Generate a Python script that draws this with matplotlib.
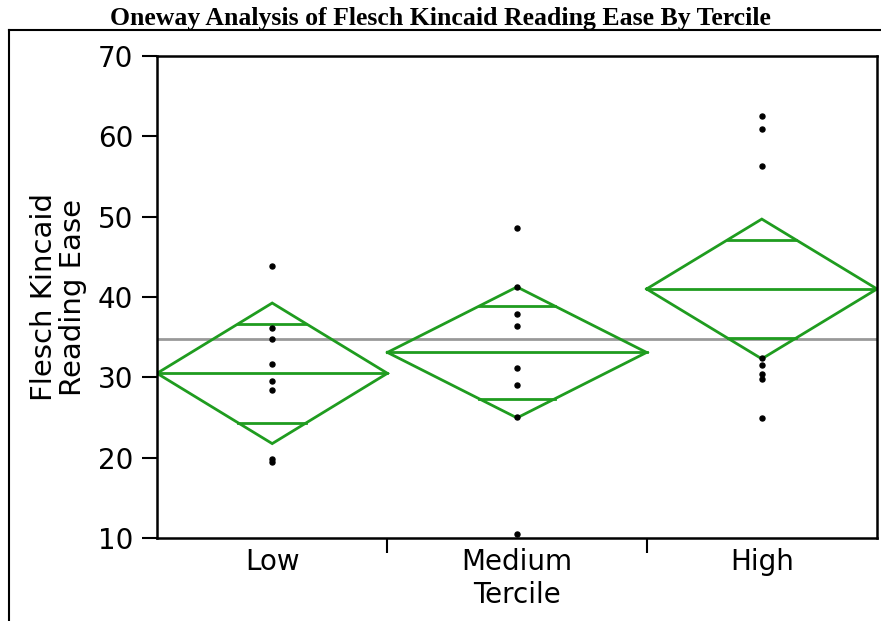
import numpy as np
import matplotlib
matplotlib.use("Agg")
import matplotlib.pyplot as plt
from matplotlib.lines import Line2D

# ---- data ----
groups = ["Low", "Medium", "High"]
group_n = [8, 9, 8]
low_vals = [43.9, 36.1, 34.8, 31.7, 29.6, 28.4, 19.8, 19.5]
medium_vals = [48.6, 41.3, 37.9, 36.4, 31.2, 29.1, 25.1, 10.5]
high_vals = [62.5, 60.9, 56.3, 32.4, 31.5, 30.4, 29.8, 24.9]
group_means = [30.5, 33.1, 41.0]
ci_half = [8.75, 8.15, 8.7]
grand_mean = 34.8
y_ticks = [10, 20, 30, 40, 50, 60, 70]

values = [low_vals, medium_vals, high_vals]

green = "#1f9c1f"
W, H = 881, 621
fig = plt.figure(figsize=(W / 100, H / 100), dpi=100)
ax = fig.add_axes([157 / W, 1 - 538 / H, (877 - 157) / W, (538 - 56) / H])

edges = np.concatenate([[0], np.cumsum(group_n)]).astype(float)
centers = (edges[:-1] + edges[1:]) / 2

ax.axhline(grand_mean, color="#999999", lw=2, zorder=1)

for i in range(len(groups)):
    x0, x1, xc = edges[i], edges[i + 1], centers[i]
    hw = (x1 - x0) / 2
    m, c = group_means[i], ci_half[i]
    ax.plot([x0, xc, x1, xc, x0], [m, m + c, m, m - c, m], color=green, lw=2, zorder=2,
            solid_joinstyle="miter")
    ax.plot([x0, x1], [m, m], color=green, lw=2, zorder=2)
    f = 1 / np.sqrt(2)
    ow = hw * (1 - f)
    for s in (1, -1):
        ax.plot([xc - ow, xc + ow], [m + s * c * f] * 2, color=green, lw=2, zorder=2)
    ax.plot([xc] * len(values[i]), values[i], "o", color="black", ms=3.6, zorder=3)

ax.set_xlim(edges[0], edges[-1])
ax.set_ylim(10, 70)
ax.set_yticks(y_ticks)
ax.set_xticks(edges[1:-1])
ax.set_xticklabels([])
ax.set_xticks(centers, minor=True)
ax.set_xticklabels(groups, minor=True)
ax.tick_params(axis="x", which="minor", length=0, pad=7)
ax.tick_params(axis="x", which="major", length=11, width=1.5, direction="out")
ax.tick_params(axis="y", length=11, width=1.5, direction="out", pad=6)

font = "DejaVu Sans"
fs = 20
for lab in ax.get_yticklabels() + ax.get_xticklabels(minor=True):
    lab.set_fontfamily(font)
    lab.set_fontsize(fs)

for sp in ax.spines.values():
    sp.set_linewidth(1.8)

ax.set_xlabel("Tercile", fontsize=fs, family=font, labelpad=4)
ax.set_ylabel("Flesch Kincaid\nReading Ease", fontsize=21, family=font, labelpad=8,
              linespacing=1.05)

fig.text(0.5, 1 - 18 / H, "Oneway Analysis of Flesch Kincaid Reading Ease By Tercile",
         ha="center", va="center", family="Liberation Serif", weight="bold", fontsize=18.5)

fx, fy = 8.5 / W, 1 - 30 / H
fig.add_artist(Line2D([fx, fx], [0, fy], color="black", lw=1.5, transform=fig.transFigure))
fig.add_artist(Line2D([fx, 1], [fy, fy], color="black", lw=1.5, transform=fig.transFigure))

fig.savefig("out.png", dpi=100)
